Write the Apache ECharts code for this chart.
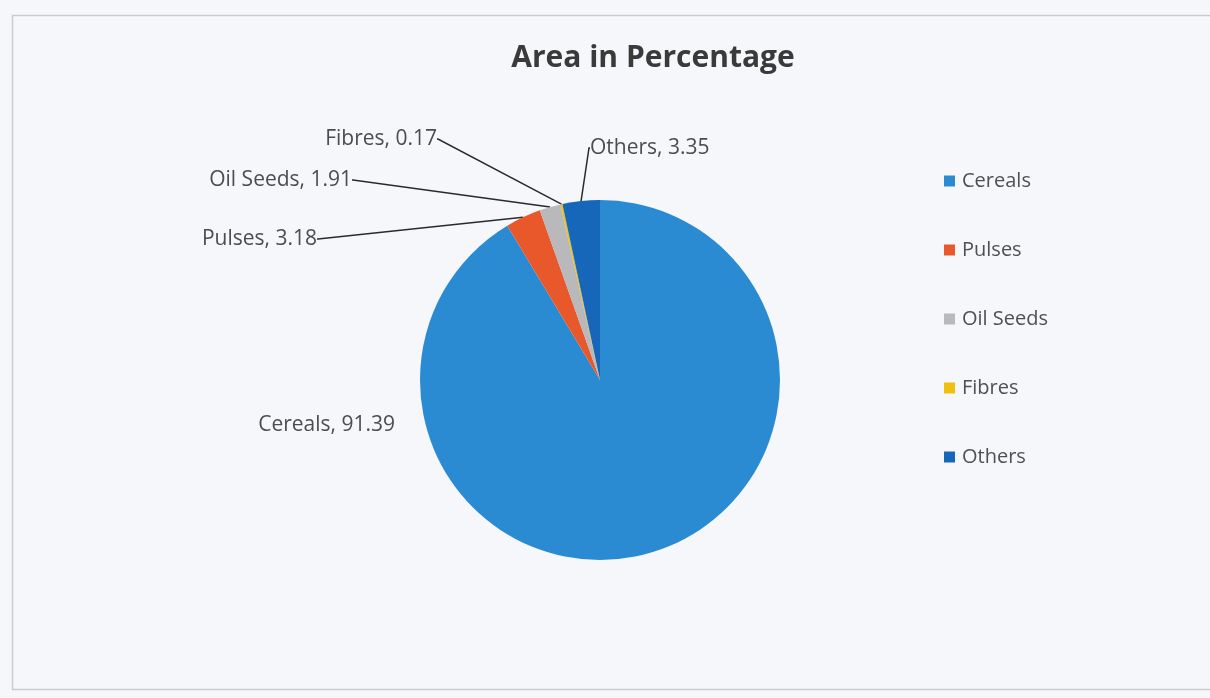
<!DOCTYPE html>
<html>
<head>
<meta charset="utf-8">
<script src="https://cdn.jsdelivr.net/npm/echarts@6/dist/echarts.min.js"></script>
<style>
html,body{margin:0;padding:0;background:#f4f6f9;}
#c{width:1210px;height:698px;}
</style>
</head>
<body>
<div id="c"></div>
<script>
const categories = ['Cereals', 'Pulses', 'Oil Seeds', 'Fibres', 'Others'];
const values = [91.39, 3.18, 1.91, 0.17, 3.35];
const colors = ['#2b8bd2', '#e8582b', '#b9b9bb', '#f0c010', '#1666ba'];

const labelPos = {
  0: {x: 395, y: 425, align: 'right'},
  1: {x: 317, y: 239, align: 'right'},
  2: {x: 352, y: 180, align: 'right'},
  3: {x: 437, y: 139, align: 'right'},
  4: {x: 590, y: 148, align: 'left'}
};

const chart = echarts.init(document.getElementById('c'), null, {renderer: 'canvas'});
chart.setOption({
  backgroundColor: '#f5f7fa',
  animation: false,
  title: {
    text: 'Area in Percentage',
    left: 648, top: 38, textAlign: 'center',
    textStyle: {fontFamily: 'Open Sans', fontWeight: 'bold', fontSize: 30, color: '#3a3a3a'}
  },
  legend: {
    orient: 'vertical', left: 939, top: 166,
    itemWidth: 11, itemHeight: 11, itemGap: 49,
    icon: 'rect',
    data: categories,
    textStyle: {fontFamily: 'Open Sans', fontSize: 20, color: '#505050', padding: [0, 0, 0, 2]}
  },
  graphic: [{
    type: 'rect', left: 10, top: 13,
    shape: {width: 1230, height: 674},
    style: {fill: 'none', stroke: '#c9ccd2', lineWidth: 1.5},
    silent: true
  }],
  series: [{
    type: 'pie',
    center: [600, 380],
    radius: [0, 180],
    startAngle: 90,
    clockwise: true,
    data: categories.map((c, i) => ({name: c, value: values[i], itemStyle: {color: colors[i]},
      labelLine: {show: i !== 0}})),
    label: {
      show: true,
      formatter: '{b}, {c}',
      fontFamily: 'Open Sans', fontSize: 21, color: '#4d4d4d'
    },
    labelLine: {show: true, length: 1, length2: 1, lineStyle: {color: '#2a2a2a', width: 1.5}},
    labelLayout: function (p) {
      const o = labelPos[p.dataIndex];
      return {x: o.x, y: o.y, align: o.align, verticalAlign: 'middle'};
    },
    emphasis: {disabled: true}
  }]
});
</script>
</body>
</html>
